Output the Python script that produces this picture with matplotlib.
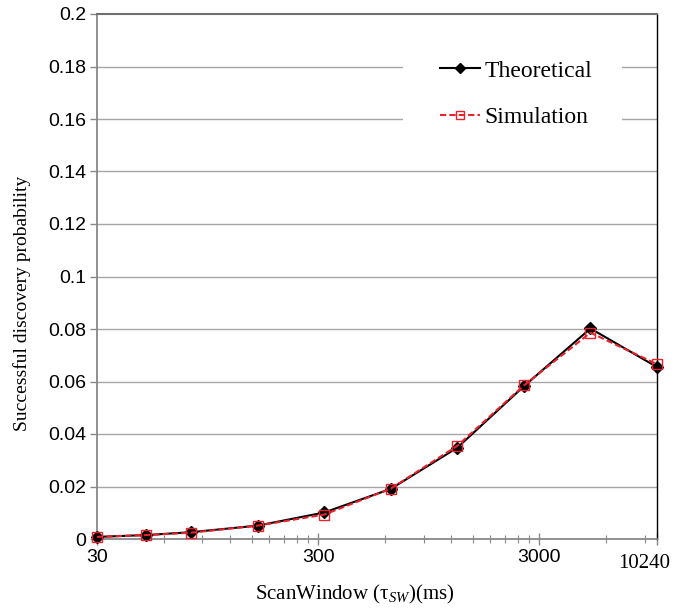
import matplotlib
matplotlib.use("Agg")
import matplotlib.pyplot as plt
from matplotlib.patches import Rectangle
from matplotlib.ticker import FixedLocator, NullFormatter
from matplotlib.transforms import ScaledTranslation

# Scan window lengths (ms)
scan_window = [30, 50, 80, 160, 320, 640, 1280, 2560, 5120, 10240]
# Successful discovery probability
theoretical = [0.0008, 0.0015, 0.0026, 0.0051, 0.0101, 0.0191, 0.0348, 0.0582, 0.0802, 0.0655]
simulation = [0.0008, 0.0015, 0.0024, 0.0051, 0.0093, 0.0192, 0.0355, 0.0585, 0.0786, 0.0666]

x_major = [30, 300, 3000, 10240]
x_major_labels = ["30", "300", "3000", "10240"]
y_ticks = [0, 0.02, 0.04, 0.06, 0.08, 0.1, 0.12, 0.14, 0.16, 0.18, 0.2]
y_tick_labels = ["0", "0.02", "0.04", "0.06", "0.08", "0.1", "0.12", "0.14", "0.16", "0.18", "0.2"]

SANS = "Liberation Sans"
SERIF = "Liberation Serif"
plt.rcParams["mathtext.fontset"] = "custom"
plt.rcParams["mathtext.rm"] = SERIF
plt.rcParams["mathtext.it"] = SERIF + ":italic"

W, H = 688, 613
fig = plt.figure(figsize=(W / 100, H / 100), dpi=100)
ax = fig.add_axes([97 / W, 74 / H, 560 / W, 525 / H])

ax.set_xscale("log")
ax.set_xlim(30, 10240)
ax.set_ylim(0, 0.2)

# horizontal grid
for y in y_ticks[1:-1]:
    ax.axhline(y, color="#a6a6a6", lw=1.0, zorder=0)

ax.plot(scan_window, theoretical, color="black", lw=1.5, marker="D",
        markersize=6, markerfacecolor="black", markeredgecolor="black",
        label="Theoretical", zorder=3, clip_on=False)
ax.plot(scan_window, simulation, color="#e8212b", lw=1.5, ls=(0, (3, 1.5)),
        marker="s", markersize=7, markerfacecolor="none",
        markeredgecolor="#e8212b", markeredgewidth=1.0,
        label="Simulation", zorder=4, clip_on=False)

# x ticks: majors labelled, minors at k*30*10^n
ax.xaxis.set_major_locator(FixedLocator(x_major))
ax.set_xticklabels(x_major_labels)
minors = [k * 30 * 10 ** n for n in range(3) for k in range(2, 10)]
minors = [m for m in minors if m < 10240]
ax.xaxis.set_minor_locator(FixedLocator(minors))
ax.xaxis.set_minor_formatter(NullFormatter())
ax.tick_params(axis="x", which="major", direction="inout", length=9, width=1,
               color="#888888", pad=3)
ax.tick_params(axis="x", which="minor", direction="inout", length=6, width=0.8,
               color="#888888")
for lbl in ax.get_xticklabels():
    lbl.set_fontfamily(SANS)
    lbl.set_fontsize(14)
last = ax.get_xticklabels()[-1]
last.set_fontfamily(SERIF)
last.set_fontsize(15)
last.set_transform(last.get_transform() + ScaledTranslation(-0.13, -0.05, fig.dpi_scale_trans))

ax.set_yticks(y_ticks)
ax.set_yticklabels(y_tick_labels, fontfamily=SANS, fontsize=14)
ax.tick_params(axis="y", direction="out", length=5, width=1, color="#888888", pad=3)

for side in ("left", "bottom"):
    ax.spines[side].set_color("#888888")
    ax.spines[side].set_linewidth(1.3)
ax.spines["top"].set_color("#707070")
ax.spines["top"].set_linewidth(1.5)
ax.spines["right"].set_color("black")
ax.spines["right"].set_linewidth(1.0)

fig.text(22 / W, 1 - 303 / H, "Successful discovery probability", rotation=90,
         ha="center", va="center", fontfamily=SERIF, fontsize=14)
fig.text(355 / W, 1 - 594 / H, "ScanWindow (τ$_{SW}$)(ms)",
         ha="center", va="center", fontfamily=SERIF, fontsize=15)

# white backing behind the legend
ax.add_patch(Rectangle((403 / W, 1 - 142 / H), 219 / W, 97 / H,
                       transform=fig.transFigure, facecolor="white",
                       edgecolor="none", zorder=1))

leg = ax.legend(loc="upper left", bbox_to_anchor=(440 / W, 1 - 60 / H),
                bbox_transform=fig.transFigure, frameon=False,
                prop={"family": SERIF, "size": 17}, handlelength=1.7,
                labelspacing=1.05, borderpad=0, borderaxespad=0,
                handletextpad=0.2, markerscale=0.8)

fig.savefig("out.png", dpi=100)
